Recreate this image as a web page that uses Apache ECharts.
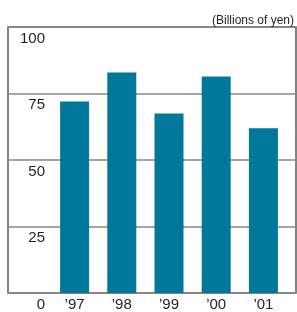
<!DOCTYPE html>
<html>
<head>
<meta charset="utf-8">
<script src="https://cdn.jsdelivr.net/npm/echarts@6/dist/echarts.min.js"></script>
<style>html,body{margin:0;padding:0;background:#fff}#c{width:297px;height:312px}</style>
</head>
<body>
<div id="c"></div>
<script>
const categories = ["’97", "’98", "’99", "’00", "’01"];
const values = [72, 82.9, 67.5, 81.4, 61.9];
const unitLabel = "(Billions of yen)";

const chart = echarts.init(document.getElementById('c'), null, {renderer: 'canvas'});
chart.setOption({
  animation: false,
  title: {
    text: unitLabel, right: -2, top: 10,
    textStyle: {fontFamily: 'Liberation Sans Narrow, Liberation Sans, sans-serif', fontSize: 12, fontWeight: 'normal', color: '#231f20'}
  },
  grid: [
    {left: 8, right: 1, top: 27, bottom: 18, show: true, borderColor: '#5f5a5a', borderWidth: 1.5, containLabel: false},
    {left: 51, right: 10, top: 27, bottom: 18, containLabel: false}
  ],
  xAxis: [
    {type: 'category', gridIndex: 0, data: categories, show: false},
    {type: 'category', gridIndex: 1, data: categories,
     axisLine: {show: false}, axisTick: {show: false},
     axisLabel: {margin: 4, fontSize: 15, color: '#231f20', fontFamily: 'Liberation Sans, Arial, sans-serif'}}
  ],
  yAxis: [
    {type: 'value', gridIndex: 0, min: 0, max: 100, interval: 25,
     axisLine: {show: false}, axisTick: {show: false},
     splitLine: {show: true, lineStyle: {color: '#8a8686', width: 1.5}},
     axisLabel: {inside: true, margin: 37, align: 'right', verticalAlign: 'top', padding: [4, 0, 0, 0],
                 fontSize: 15, color: '#231f20', fontFamily: 'Liberation Sans, Arial, sans-serif'}},
    {type: 'value', gridIndex: 1, min: 0, max: 100, interval: 25, show: false, splitLine: {show: false}}
  ],
  series: [{
    type: 'bar', xAxisIndex: 1, yAxisIndex: 1, data: values, barWidth: 29,
    itemStyle: {color: '#00779b'}
  }]
});
</script>
</body>
</html>
